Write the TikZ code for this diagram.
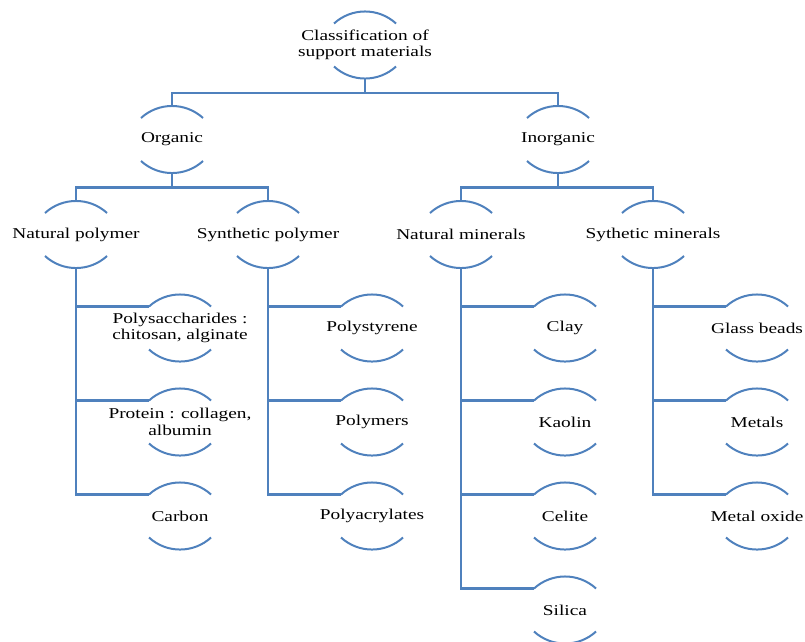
\documentclass[tikz,border=0pt]{standalone}
\usepackage{fontspec}
\setmainfont{Liberation Serif}
\newfontfamily\widefont{Liberation Serif}[FakeStretch=1.29]
\definecolor{ln}{RGB}{79,129,189}
\tikzset{
  nd/.style={minimum width=62pt,minimum height=67pt,inner sep=0pt,align=center,
    font=\widefont\fontsize{15}{16.5}\selectfont},
  conn/.style={draw=ln,line width=2.2pt},
  arcl/.style={draw=ln,line width=2pt}
}
\begin{document}
\begin{tikzpicture}[x=1pt,y=1pt]
\useasboundingbox (0,0) rectangle (805,-641);
\clip (0,0) rectangle (805,-641);
% level 0
\node[nd] (top) at (365,-45) {Classification of\\support materials};
% level 1
\node[nd] (org) at (172,-139.5) {Organic};
\node[nd] (inorg) at (558,-139.5) {Inorganic};
% level 2
\node[nd] (np) at (76,-234.5) {Natural polymer};
\node[nd] (sp) at (268,-234.5) {Synthetic polymer};
\node[nd] (nm) at (461,-234.5) {Natural minerals};
\node[nd] (sm) at (653,-234.5) {Sythetic minerals};
% level 3
\node[nd] (a1) at (180,-328) {Polysaccharides :\\chitosan, alginate};
\node[nd] (a2) at (180,-422) {Protein : collagen,\\albumin};
\node[nd] (a3) at (180,-516) {Carbon};
\node[nd] (b1) at (372,-328) {Polystyrene};
\node[nd] (b2) at (372,-422) {Polymers};
\node[nd] (b3) at (372,-516) {Polyacrylates};
\node[nd] (c1) at (565,-328) {Clay};
\node[nd] (c2) at (565,-422) {Kaolin};
\node[nd] (c3) at (565,-516) {Celite};
\node[nd] (c4) at (565,-610) {Silica};
\node[nd] (d1) at (757,-328) {Glass beads};
\node[nd] (d2) at (757,-422) {Metals};
\node[nd] (d3) at (757,-516) {Metal oxide};
% arcs
\foreach \n in {top,org,inorg,np,sp,nm,sm,a1,a2,a3,b1,b2,b3,c1,c2,c3,c4,d1,d2,d3}{
  \draw[arcl] ([shift={(-31,21.5)}]\n.center) arc[start angle=132.4,end angle=47.6,radius=46pt];
  \draw[arcl] ([shift={(-31,-21.5)}]\n.center) arc[start angle=227.6,end angle=312.4,radius=46pt];
}
% buses
\coordinate (j0) at (365,-93);
\draw[conn] (top.south) -- (j0);
\draw[conn] (org.north) |- (j0) -| (inorg.north);
\coordinate (j1) at (172,-187.5);
\coordinate (j2) at (558,-187.5);
\draw[conn] (org.south) -- (j1);
\draw[conn] (np.north) |- (j1) -| (sp.north);
\draw[conn] (inorg.south) -- (j2);
\draw[conn] (nm.north) |- (j2) -| (sm.north);
% children
\foreach \p/\c in {np/a1,np/a2,np/a3,sp/b1,sp/b2,sp/b3,nm/c1,nm/c2,nm/c3,nm/c4,sm/d1,sm/d2,sm/d3}{
  \draw[conn] (\p.south) |- ([shift={(-31,21.5)}]\c.center);
}
\end{tikzpicture}
\end{document}
